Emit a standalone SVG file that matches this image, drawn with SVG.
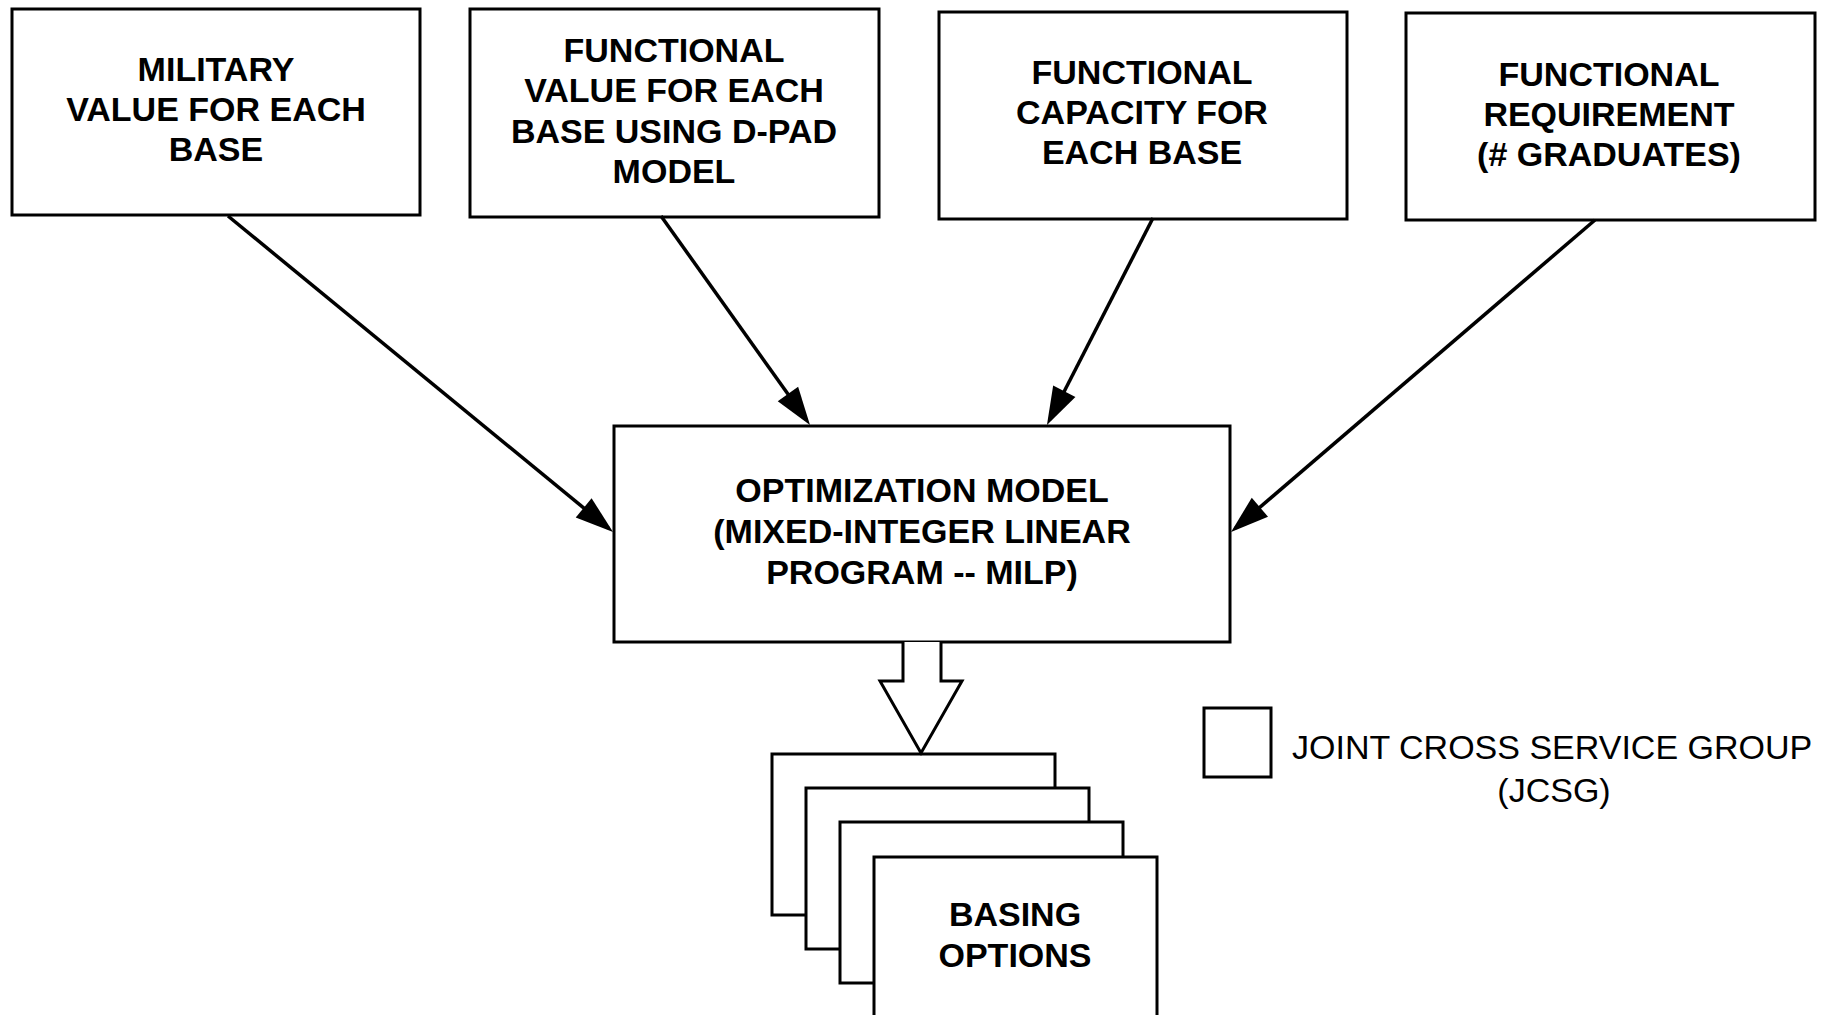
<svg xmlns="http://www.w3.org/2000/svg" width="1830" height="1015" viewBox="0 0 1830 1015">
<defs>
<style>
.box{fill:#fff;stroke:#000;stroke-width:3}
.t{font-family:"Liberation Sans",Arial,Helvetica,sans-serif;font-weight:bold;font-size:34px;fill:#000;text-anchor:middle}
.lg{font-family:"Liberation Sans",Arial,Helvetica,sans-serif;font-size:34px;fill:#000}
.conn{stroke:#000;stroke-width:3.5;fill:none}
</style>
<marker id="ah" markerUnits="userSpaceOnUse" markerWidth="40" markerHeight="26" refX="32" refY="12.5" orient="auto" overflow="visible">
<path d="M0,0 L38,12.5 L0,25 Z" fill="#000"/>
</marker>
</defs>
<rect width="1830" height="1015" fill="#fff"/>

<g id="n-military">
<rect class="box" x="12" y="9" width="408" height="206"/>
<text class="t" x="216" y="81">MILITARY</text>
<text class="t" x="216" y="121">VALUE FOR EACH</text>
<text class="t" x="216" y="161">BASE</text>
</g>

<g id="n-functional-value">
<rect class="box" x="470" y="9" width="409" height="208"/>
<text class="t" x="674" y="62">FUNCTIONAL</text>
<text class="t" x="674" y="102">VALUE FOR EACH</text>
<text class="t" x="674" y="143">BASE USING D-PAD</text>
<text class="t" x="674" y="183">MODEL</text>
</g>

<g id="n-functional-capacity">
<rect class="box" x="939" y="12" width="408" height="207"/>
<text class="t" x="1142" y="84">FUNCTIONAL</text>
<text class="t" x="1142" y="124">CAPACITY FOR</text>
<text class="t" x="1142" y="164">EACH BASE</text>
</g>

<g id="n-functional-requirement">
<rect class="box" x="1406" y="13" width="409" height="207"/>
<text class="t" x="1609" y="86">FUNCTIONAL</text>
<text class="t" x="1609" y="126">REQUIREMENT</text>
<text class="t" x="1609" y="166">(# GRADUATES)</text>
</g>

<g id="n-optimization">
<rect class="box" x="614" y="426" width="616" height="216"/>
<text class="t" x="922" y="502">OPTIMIZATION MODEL</text>
<text class="t" x="922" y="543">(MIXED-INTEGER LINEAR</text>
<text class="t" x="922" y="584">PROGRAM -- MILP)</text>
</g>

<g id="n-basing-options">
<rect class="box" x="772" y="754" width="283" height="161"/>
<rect class="box" x="806" y="788" width="283" height="161"/>
<rect class="box" x="840" y="822" width="283" height="161"/>
<rect class="box" x="874" y="857" width="283" height="170"/>
<text class="t" x="1015" y="926">BASING</text>
<text class="t" x="1015" y="967">OPTIONS</text>
</g>

<g id="legend">
<rect class="box" x="1204" y="708" width="67" height="69"/>
<text class="lg" x="1292" y="759">JOINT CROSS SERVICE GROUP</text>
<text class="lg" x="1554" y="802" text-anchor="middle">(JCSG)</text>
</g>

<g id="connectors">
<line class="conn" x1="228" y1="216" x2="608.4" y2="528.2" marker-end="url(#ah)"/>
<line class="conn" x1="661" y1="216" x2="806.5" y2="420.1" marker-end="url(#ah)"/>
<line class="conn" x1="1153" y1="218" x2="1049.7" y2="419.7" marker-end="url(#ah)"/>
<line class="conn" x1="1595" y1="220" x2="1235.6" y2="528.1" marker-end="url(#ah)"/>
<path class="box" d="M903,642 L903,681 L880,681 L921,753 L962,681 L941,681 L941,642"/>
</g>
</svg>
